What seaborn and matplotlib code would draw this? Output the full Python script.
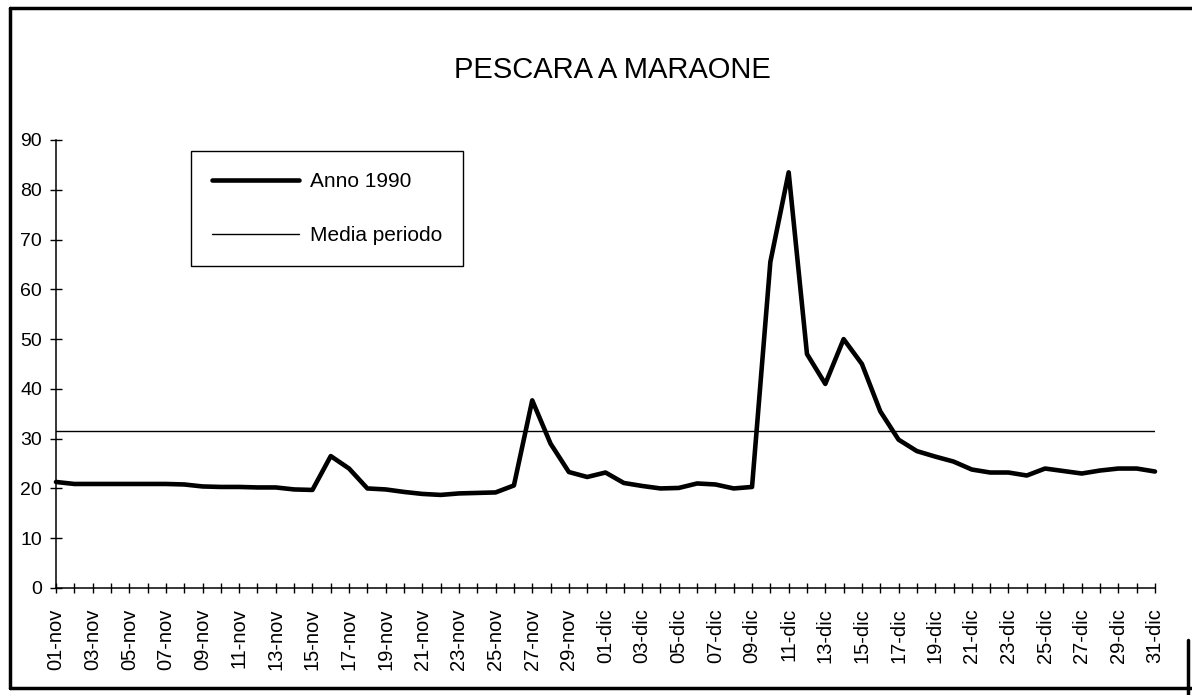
import matplotlib
matplotlib.use("Agg")

import matplotlib.pyplot as plt
import numpy as np
import seaborn as sns
from matplotlib.lines import Line2D

# ── dati (portata giornaliera, nov-dic 1990) ───────────────────────────────
giorni = [f"{d:02d}-nov" for d in range(1, 31)] + [f"{d:02d}-dic" for d in range(1, 32)]

anno_1990 = [
    21.3, 20.9, 20.9, 20.9, 20.9, 20.9, 20.9, 20.8, 20.4, 20.3,
    20.3, 20.2, 20.2, 19.8, 19.7, 26.5, 24.0, 20.0, 19.8, 19.3,
    18.9, 18.7, 19.0, 19.1, 19.2, 20.6, 37.7, 29.0, 23.3, 22.3,
    23.2, 21.1, 20.5, 20.0, 20.1, 21.0, 20.8, 20.0, 20.3, 65.5,
    83.5, 47.0, 41.0, 50.0, 45.0, 35.5, 29.8, 27.5, 26.4, 25.4,
    23.8, 23.2, 23.2, 22.6, 24.0, 23.5, 23.0, 23.6, 24.0, 24.0,
    23.4,
]
media_periodo = 31.5

titolo = "PESCARA A MARAONE"
y_ticks = [0, 10, 20, 30, 40, 50, 60, 70, 80, 90]

# ── stile ─────────────────────────────────────────────────────────────────
sns.set_style("white")
plt.rcParams.update({
    "font.family": ["Liberation Sans", "DejaVu Sans"],
    "text.color": "black",
    "xtick.color": "black",
    "ytick.color": "black",
})

W, H = 1192, 695
fig = plt.figure(figsize=(W / 100, H / 100), dpi=100)
ax = fig.add_axes([56 / W, 1 - 588 / H, (1155 - 56) / W, (588 - 140) / H])

x = np.arange(len(giorni))
sns.lineplot(x=x, y=anno_1990, ax=ax, color="black", linewidth=3.3,
             label="Anno 1990", clip_on=False)
sns.lineplot(x=x, y=[media_periodo] * len(giorni), ax=ax, color="black",
             linewidth=1.0, label="Media periodo")

ax.set_xlim(0, len(giorni) - 1)
ax.set_ylim(0, 90)
ax.set_yticks(y_ticks)
ax.set_xticks(x)
ax.set_xticklabels([g if i % 2 == 0 else "" for i, g in enumerate(giorni)],
                   rotation=90)
ax.set_xlabel("")
ax.set_ylabel("")

for side in ("top", "right"):
    ax.spines[side].set_visible(False)
for side in ("left", "bottom"):
    ax.spines[side].set_color("black")
    ax.spines[side].set_linewidth(1.1)

ax.tick_params(axis="x", direction="inout", length=7, width=1.0,
               color="black", labelcolor="black", labelsize=14.5, pad=11,
               bottom=True)
ax.tick_params(axis="y", direction="inout", length=8, width=1.0,
               color="black", labelcolor="black", labelsize=14, pad=6,
               left=True)

leg = ax.legend(loc="upper left", bbox_to_anchor=(191 / W, 1 - 151 / H),
                bbox_transform=fig.transFigure, borderaxespad=0,
                frameon=True, fancybox=False, framealpha=1,
                edgecolor="black", borderpad=1.0, labelspacing=1.7,
                handlelength=4.2, handletextpad=0.5, prop={"size": 15})
leg.get_frame().set_linewidth(1.0)

fig.text(612 / W, 1 - 70 / H, titolo, ha="center", va="center", fontsize=21)

# cornice esterna (scansione)
for xs, ys in [((10, 10), (8, 688)), ((10, W + 5), (8, 8)),
               ((10, W + 5), (688, 688)), ((1188, 1188), (640, H))]:
    fig.add_artist(Line2D([v / W for v in xs], [1 - v / H for v in ys],
                          color="black", linewidth=2.5,
                          transform=fig.transFigure))

fig.savefig("out.png", dpi=100)
plt.close(fig)
